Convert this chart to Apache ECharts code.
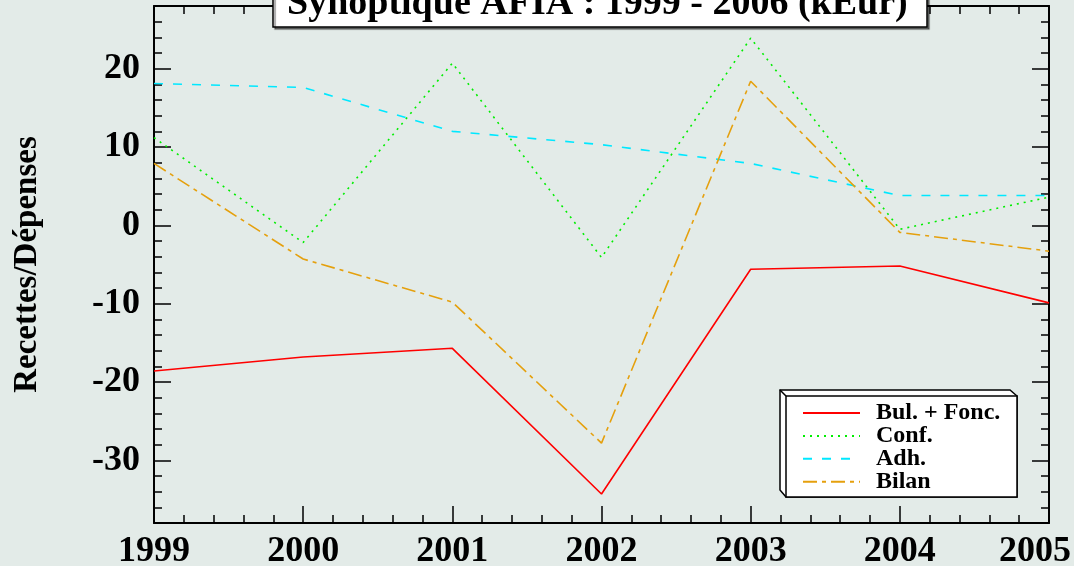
<!DOCTYPE html>
<html>
<head>
<meta charset="utf-8">
<title>Synoptique AFIA</title>
<script src="https://cdn.jsdelivr.net/npm/echarts@6/dist/echarts.min.js"></script>
<style>
  html, body { margin: 0; padding: 0; background: #e3ebe8; }
  #chart { width: 1074px; height: 566px; }
</style>
</head>
<body>
<div id="chart"></div>
<script>
// années (axe x)
const years = [1999, 2000, 2001, 2002, 2003, 2004, 2005]
// valeurs en kEur
const bulFonc = [-18.6, -16.8, -15.7, -34.3, -5.6, -5.2, -9.9]
const conf = [11.2, -2.2, 20.7, -4.1, 23.9, -0.5, 3.6]
const adh = [18.1, 17.6, 12.0, 10.3, 7.9, 3.8, 3.8]
const bilan = [7.9, -4.3, -9.8, -27.8, 18.4, -0.9, -3.3]
// graduations de l'axe y
const yTicks = [-30, -20, -10, 0, 10, 20]

const serif = '"Liberation Serif", "Times New Roman", "DejaVu Serif", serif'
const black = '#000'

function pairs(values) {
  return years.map((y, i) => [y, values[i]])
}

function xAxisDef(pos, showLabel) {
  return {
    type: 'value',
    position: pos,
    min: 1999,
    max: 2005,
    interval: 1,
    axisLine: { onZero: false, lineStyle: { color: black, width: 2 } },
    axisTick: { inside: true, length: 17, lineStyle: { color: black, width: 1.5 } },
    minorTick: { show: true, splitNumber: 5, length: 8, lineStyle: { color: black, width: 1.5 } },
    splitLine: { show: false },
    axisLabel: {
      show: showLabel,
      color: black,
      fontFamily: serif,
      fontWeight: 'bold',
      fontSize: 36,
      margin: 11,
      formatter: v => (v === 2005 ? '{last|' + v + '}' : String(v)),
      rich: {
        last: { fontFamily: serif, fontWeight: 'bold', fontSize: 36, color: black, padding: [0, 28, 0, 0] }
      }
    }
  }
}

function yMajor(pos, showLabel) {
  return {
    type: 'value',
    position: pos,
    min: -38,
    max: 28,
    axisLine: { show: true, onZero: false, lineStyle: { color: black, width: 2 } },
    axisTick: { inside: true, length: 17, customValues: yTicks, lineStyle: { color: black, width: 1.5 } },
    splitLine: { show: false },
    name: showLabel ? 'Recettes/Dépenses' : '',
    nameLocation: 'middle',
    nameRotate: 90,
    nameGap: 110,
    nameTextStyle: { color: black, fontFamily: serif, fontWeight: 'bold', fontSize: 33 },
    axisLabel: {
      show: showLabel,
      customValues: yTicks,
      color: black,
      fontFamily: serif,
      fontWeight: 'bold',
      fontSize: 36,
      margin: 14,
      padding: [9, 0, 0, 0]
    }
  }
}

function yMinor(pos) {
  return {
    type: 'value',
    position: pos,
    min: -38,
    max: 28,
    interval: 2,
    axisLine: { show: false, onZero: false },
    axisTick: { inside: true, length: 8, lineStyle: { color: black, width: 1.5 } },
    axisLabel: { show: false },
    splitLine: { show: false }
  }
}

function lineSeries(name, values, color, type) {
  return {
    name: name,
    type: 'line',
    xAxisIndex: 0,
    yAxisIndex: 0,
    data: pairs(values),
    symbol: 'none',
    lineStyle: { color: color, width: 1.6, type: type },
    itemStyle: { color: color },
    z: 2
  }
}

const chart = echarts.init(document.getElementById('chart'))
chart.setOption({
  animation: false,
  backgroundColor: '#e3ebe8',
  title: {
    text: 'Synoptique AFIA : 1999 - 2006 (kEur)',
    left: 273,
    top: -24,
    padding: [8, 20, 3, 14],
    backgroundColor: '#fff',
    borderColor: black,
    borderWidth: 1.5,
    shadowColor: 'rgba(0,0,0,0.45)',
    shadowBlur: 1,
    shadowOffsetX: 2,
    shadowOffsetY: 2,
    textStyle: { color: black, fontFamily: serif, fontWeight: 'bold', fontSize: 38, lineHeight: 40 },
    z: 20
  },
  grid: { left: 154, right: 25, top: 6, bottom: 43, containLabel: false, outerBoundsMode: 'none' },
  xAxis: [xAxisDef('bottom', true), xAxisDef('top', false)],
  yAxis: [yMajor('left', true), yMinor('left'), yMajor('right', false), yMinor('right')],
  graphic: [
    { // relief du cadre de légende
      type: 'polygon',
      z: 30,
      shape: { points: [[780, 390], [1010, 390], [1017, 396], [1017, 497], [786, 497], [780, 490]] },
      style: { fill: '#fff', stroke: black, lineWidth: 1.5 }
    },
    {
      type: 'rect',
      z: 31,
      shape: { x: 786, y: 396, width: 231, height: 101 },
      style: { fill: '#fff', stroke: black, lineWidth: 1.5 }
    },
    {
      type: 'polyline',
      z: 31,
      shape: { points: [[780, 390], [786, 396]] },
      style: { stroke: black, lineWidth: 1.5 }
    }
  ],
  legend: {
    orient: 'vertical',
    left: 802,
    top: 401,
    padding: 0,
    z: 40,
    itemWidth: 57,
    itemHeight: 14,
    itemGap: -1.1,
    itemStyle: { opacity: 0, color: 'rgba(0,0,0,0)', borderWidth: 0 },
    textStyle: { color: black, fontFamily: serif, fontWeight: 'bold', fontSize: 24, padding: [0, 0, 0, 11] },
    data: ['Bul. + Fonc.', 'Conf.', 'Adh.', 'Bilan']
  },
  series: [
    lineSeries('Bul. + Fonc.', bulFonc, '#ff0000', 'solid'),
    lineSeries('Conf.', conf, '#00ee00', [2, 5]),
    lineSeries('Adh.', adh, '#00e8ff', [9, 10]),
    lineSeries('Bilan', bilan, '#e5a00d', [14, 5, 4, 5])
  ]
})
</script>
</body>
</html>
